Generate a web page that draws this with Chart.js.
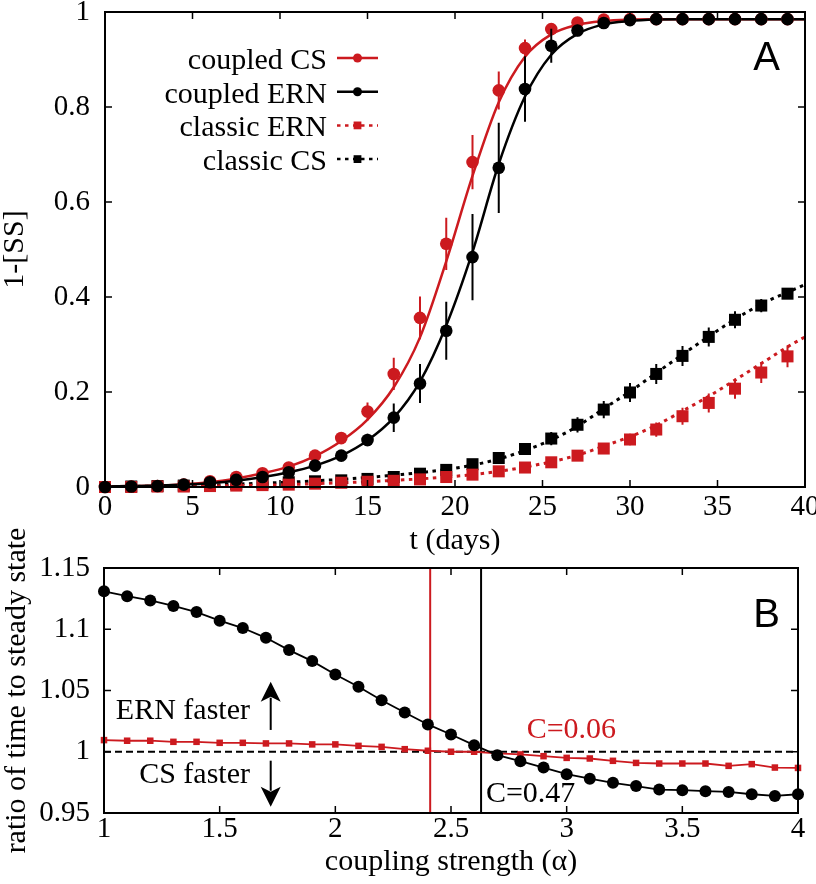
<!DOCTYPE html>
<html>
<head>
<meta charset="utf-8">
<script src="https://cdn.jsdelivr.net/npm/chart.js@4.4.1/dist/chart.umd.min.js"></script>
<style>
    html, body { margin: 0; padding: 0; background: #fff; }
    #wrap { position: relative; width: 816px; height: 884px; }
    canvas { position: absolute; left: 0; }
    #panelA { top: 0; }
    #panelB { top: 500px; }
</style>
</head>
<body>
<div id="wrap">
    <canvas id="panelA" width="816" height="560"></canvas>
    <canvas id="panelB" width="816" height="384"></canvas>
</div>
<script>
// ---- Панель A: точки симуляции ----
const tDays = [0, 1.5, 3, 4.5, 6, 7.5, 9, 10.5, 12, 13.5, 15, 16.5, 18, 19.5, 21, 22.5, 24, 25.5, 27, 28.5, 30, 31.5, 33, 34.5, 36, 37.5, 39];

const coupledCS = [0, 0.001, 0.002, 0.005, 0.012, 0.021, 0.029, 0.041, 0.066, 0.103, 0.159, 0.238, 0.356, 0.512, 0.684, 0.835, 0.924, 0.964, 0.978, 0.984, 0.985, 0.985, 0.985, 0.985, 0.985, 0.985, 0.985];
const coupledCSErr = [0, 0, 0, 0, 0, 0, 0.003, 0.004, 0.005, 0.008, 0.019, 0.034, 0.045, 0.055, 0.057, 0.04, 0.018, 0.006, 0.003, 0, 0, 0, 0, 0, 0, 0, 0];

const coupledERN = [0, 0.001, 0.002, 0.005, 0.010, 0.015, 0.021, 0.031, 0.045, 0.066, 0.099, 0.146, 0.218, 0.329, 0.484, 0.672, 0.838, 0.929, 0.961, 0.977, 0.983, 0.985, 0.985, 0.985, 0.985, 0.985, 0.985];
const coupledERNErr = [0, 0, 0, 0, 0, 0, 0.002, 0.003, 0.004, 0.006, 0.013, 0.03, 0.041, 0.061, 0.091, 0.095, 0.069, 0.036, 0.012, 0.004, 0, 0, 0, 0, 0, 0, 0];

const classicERN = [0, 0, 0.001, 0.001, 0.002, 0.003, 0.004, 0.005, 0.007, 0.009, 0.011, 0.013, 0.016, 0.021, 0.026, 0.033, 0.041, 0.052, 0.066, 0.081, 0.100, 0.121, 0.149, 0.177, 0.207, 0.241, 0.275];
const classicERNErr = [0, 0, 0, 0, 0, 0, 0, 0, 0, 0, 0.002, 0.002, 0.003, 0.003, 0.003, 0.004, 0.006, 0.007, 0.008, 0.010, 0.012, 0.015, 0.018, 0.020, 0.021, 0.022, 0.023];

const classicCS = [0, 0.001, 0.002, 0.003, 0.004, 0.006, 0.008, 0.010, 0.012, 0.014, 0.017, 0.021, 0.028, 0.036, 0.048, 0.061, 0.080, 0.102, 0.131, 0.163, 0.199, 0.238, 0.276, 0.316, 0.352, 0.382, 0.407];
const classicCSErr = [0, 0, 0, 0, 0, 0, 0, 0, 0, 0.002, 0.003, 0.003, 0.004, 0.006, 0.008, 0.010, 0.012, 0.014, 0.016, 0.018, 0.020, 0.021, 0.021, 0.020, 0.018, 0.014, 0.010];

// ---- Панель A: аппроксимирующие кривые ----
const tFit = [0, 1.5, 3, 4.5, 6, 7.5, 9, 10.5, 12, 13.5, 15, 16.5, 18, 19.5, 21, 22.5, 24, 25.5, 27, 28.5, 30, 31.5, 33, 34.5, 36, 37.5, 39, 40];
const coupledCSFit  = [0.001, 0.002, 0.003, 0.006, 0.010, 0.018, 0.029, 0.043, 0.065, 0.097, 0.142, 0.210, 0.315, 0.475, 0.655, 0.810, 0.906, 0.953, 0.973, 0.981, 0.984, 0.985, 0.985, 0.985, 0.985, 0.985, 0.985, 0.985];
const coupledERNFit = [0.001, 0.002, 0.003, 0.005, 0.008, 0.013, 0.021, 0.031, 0.045, 0.066, 0.098, 0.146, 0.222, 0.340, 0.495, 0.680, 0.822, 0.910, 0.954, 0.974, 0.981, 0.984, 0.985, 0.985, 0.985, 0.985, 0.985, 0.985];
const classicERNFit = [0, 0, 0.001, 0.001, 0.002, 0.003, 0.004, 0.005, 0.007, 0.009, 0.011, 0.014, 0.017, 0.021, 0.026, 0.033, 0.042, 0.053, 0.067, 0.086, 0.106, 0.130, 0.160, 0.191, 0.225, 0.260, 0.295, 0.316];
const classicCSFit  = [0, 0.001, 0.002, 0.003, 0.004, 0.006, 0.008, 0.010, 0.013, 0.016, 0.020, 0.025, 0.030, 0.037, 0.046, 0.059, 0.077, 0.099, 0.128, 0.165, 0.201, 0.240, 0.279, 0.317, 0.353, 0.385, 0.410, 0.426];

const xTicksA = [0, 5, 10, 15, 20, 25, 30, 35, 40];
const xLabelsA = ['0', '5', '10', '15', '20', '25', '30', '35', '40'];
const yTicksA = [0, 0.2, 0.4, 0.6, 0.8, 1];
const yLabelsA = ['0', '0.2', '0.4', '0.6', '0.8', '1'];
const legendOrder = ['coupled CS', 'coupled ERN', 'classic ERN', 'classic CS'];

// ---- Панель B ----
const alpha = [1.0, 1.1, 1.2, 1.3, 1.4, 1.5, 1.6, 1.7, 1.8, 1.9, 2.0, 2.1, 2.2, 2.3, 2.4, 2.5, 2.6, 2.7, 2.8, 2.9, 3.0, 3.1, 3.2, 3.3, 3.4, 3.5, 3.6, 3.7, 3.8, 3.9, 4.0];
const ratioBlack = [1.131, 1.127, 1.1235, 1.119, 1.114, 1.107, 1.101, 1.093, 1.083, 1.074, 1.063, 1.053, 1.042, 1.032, 1.0223, 1.0141, 1.0054, 0.9972, 0.9923, 0.9871, 0.9817, 0.978, 0.9746, 0.972, 0.9691, 0.9686, 0.9678, 0.9672, 0.9653, 0.9639, 0.9653];
const ratioRed = [1.0095, 1.009, 1.009, 1.0081, 1.0081, 1.0073, 1.0073, 1.0068, 1.0068, 1.006, 1.006, 1.0048, 1.004, 1.0021, 1.0008, 1.0, 1.0, 0.9986, 0.9978, 0.9964, 0.995, 0.9945, 0.9926, 0.9909, 0.9904, 0.9904, 0.9904, 0.9885, 0.9899, 0.9871, 0.9868];
const equalRatio = 1;
const critRed = 2.41;
const critBlack = 2.63;

const xTicksB = [1, 1.5, 2, 2.5, 3, 3.5, 4];
const xLabelsB = ['1', '1.5', '2', '2.5', '3', '3.5', '4'];
const yTicksB = [0.95, 1, 1.05, 1.1, 1.15];
const yLabelsB = ['0.95', '1', '1.05', '1.1', '1.15'];

// ---- Оформление ----
const RED = '#cc1a1f';
const BLACK = '#000000';
const SERIF = "'Liberation Serif', 'DejaVu Serif', serif";
const SANS = "'Liberation Sans', Arial, sans-serif";
const DOT = [3.5, 4.5];

Chart.defaults.color = BLACK;
Chart.defaults.font.family = SERIF;

const pts = (xs, ys) => xs.map((x, i) => ({ x: x, y: ys[i] }));

// Рамка и засечки внутрь со всех четырёх сторон
function frameTicks(tickLen) {
    return {
        id: 'frameTicks',
        afterDatasetsDraw(chart) {
            const { ctx, chartArea: a, scales } = chart;
            ctx.save();
            ctx.strokeStyle = BLACK;
            ctx.lineWidth = 1.5;
            ctx.beginPath();
            scales.x.ticks.forEach(t => {
                const px = scales.x.getPixelForValue(t.value);
                ctx.moveTo(px, a.bottom); ctx.lineTo(px, a.bottom - tickLen);
                ctx.moveTo(px, a.top); ctx.lineTo(px, a.top + tickLen);
            });
            scales.y.ticks.forEach(t => {
                const py = scales.y.getPixelForValue(t.value);
                ctx.moveTo(a.left, py); ctx.lineTo(a.left + tickLen, py);
                ctx.moveTo(a.right, py); ctx.lineTo(a.right - tickLen, py);
            });
            ctx.stroke();
            ctx.lineWidth = 2;
            ctx.strokeRect(a.left, a.top, a.width, a.height);
            ctx.restore();
        }
    };
}

// Планки погрешностей (рисуем перед маркерами)
const errorBars = {
    id: 'errorBars',
    beforeDatasetDraw(chart, args) {
        const ds = chart.data.datasets[args.index];
        if (!ds.errors) return;
        const { ctx, scales: { x, y } } = chart;
        ctx.save();
        ctx.strokeStyle = ds.borderColor;
        ctx.lineWidth = 2;
        ctx.beginPath();
        ds.data.forEach((p, i) => {
            const e = ds.errors[i];
            if (!e) return;
            const px = x.getPixelForValue(p.x);
            ctx.moveTo(px, y.getPixelForValue(p.y - e));
            ctx.lineTo(px, y.getPixelForValue(p.y + e));
        });
        ctx.stroke();
        ctx.restore();
    }
};

// Легенда панели A: текст справа налево, образец линии с маркером
const legendA = {
    id: 'legendA',
    afterDraw(chart) {
        const { ctx, chartArea: a, scales: { x, y } } = chart;
        const textRight = a.left + 222;
        ctx.save();
        legendOrder.forEach((label, i) => {
            const rowY = a.top + 46 + i * 33.7;
            const fit = chart.data.datasets.find(d => d.label === label && d.role === 'fit');
            const marks = chart.data.datasets.find(d => d.label === label && d.role === 'marks');
            ctx.font = `30px ${SERIF}`;
            ctx.fillStyle = BLACK;
            ctx.textAlign = 'right';
            ctx.textBaseline = 'alphabetic';
            ctx.fillText(label, textRight, rowY + 11);
            ctx.strokeStyle = fit.borderColor;
            ctx.lineWidth = 2.5;
            ctx.setLineDash(fit.borderDash || []);
            ctx.beginPath();
            ctx.moveTo(textRight + 10, rowY);
            ctx.lineTo(textRight + 51, rowY);
            ctx.stroke();
            ctx.setLineDash([]);
            ctx.fillStyle = marks.backgroundColor;
            Chart.helpers.drawPoint(ctx, {
                pointStyle: marks.pointStyle,
                radius: marks.pointStyle === 'rect' ? 5.5 : 4.5,
                rotation: 0,
                borderWidth: 0
            }, textRight + 30.5, rowY);
        });
        ctx.font = `40px ${SANS}`;
        ctx.textAlign = 'right';
        ctx.fillStyle = BLACK;
        ctx.fillText('A', x.getPixelForValue(38.57), y.getPixelForValue(0.878));
        ctx.restore();
    }
};

function drawArrow(ctx, x, y0, y1) {
    const dir = Math.sign(y1 - y0);
    const head = 20;
    ctx.strokeStyle = BLACK;
    ctx.fillStyle = BLACK;
    ctx.lineWidth = 2;
    ctx.beginPath();
    ctx.moveTo(x, y0);
    ctx.lineTo(x, y1 - dir * head * 0.8);
    ctx.stroke();
    ctx.beginPath();
    ctx.moveTo(x, y1);
    ctx.lineTo(x - 10, y1 - dir * head);
    ctx.lineTo(x, y1 - dir * head * 0.75);
    ctx.lineTo(x + 10, y1 - dir * head);
    ctx.closePath();
    ctx.fill();
}

// Подписи и стрелки панели B
const notesB = {
    id: 'notesB',
    afterDraw(chart) {
        const { ctx, scales: { x, y } } = chart;
        const px = v => x.getPixelForValue(v);
        const py = v => y.getPixelForValue(v);
        ctx.save();
        ctx.font = `30px ${SERIF}`;
        ctx.textBaseline = 'alphabetic';
        ctx.fillStyle = BLACK;
        ctx.textAlign = 'right';
        ctx.fillText('ERN faster', px(1.631), py(1.0267));
        ctx.fillText('CS faster', px(1.631), py(0.9745));
        ctx.textAlign = 'left';
        ctx.fillStyle = RED;
        ctx.fillText('C=0.06', px(2.827), py(1.011));
        ctx.fillStyle = BLACK;
        ctx.fillText('C=0.47', px(2.651), py(0.9592));
        drawArrow(ctx, px(1.7206), py(1.0178), py(1.0572));
        drawArrow(ctx, px(1.7206), py(0.9927), py(0.9551));
        ctx.font = `40px ${SANS}`;
        ctx.textAlign = 'right';
        ctx.fillText('B', px(3.922), py(1.1018));
        ctx.restore();
    }
};

function markerSet(label, ys, errs, color, style, radius) {
    return {
        label: label, role: 'marks',
        data: pts(tDays, ys), errors: errs,
        showLine: false, borderColor: color, backgroundColor: color,
        pointStyle: style, pointRadius: radius, pointBorderWidth: 0,
        clip: false
    };
}

function fitSet(label, ys, color, dash) {
    return {
        label: label, role: 'fit',
        data: pts(tFit, ys),
        borderColor: color, borderWidth: dash.length ? 3 : 2.5, borderDash: dash,
        borderCapStyle: 'butt',
        pointRadius: 0, cubicInterpolationMode: 'monotone', fill: false
    };
}

function axis(min, max, tickVals, tickLabels, opts) {
    return {
        type: 'linear', min: min, max: max,
        afterBuildTicks: s => { s.ticks = tickVals.map(v => ({ value: v })); },
        afterFit: s => {
            if (opts.width) s.width = opts.width;
            if (opts.height) s.height = opts.height;
            s.paddingLeft = 0; s.paddingRight = 0; s.paddingTop = 0; s.paddingBottom = 0;
        },
        grid: { display: false, drawTicks: false },
        border: { display: false },
        ticks: {
            color: BLACK, autoSkip: false, maxRotation: 0, padding: opts.tickPad,
            font: { family: SERIF, size: 29, lineHeight: 1 },
            callback: (v, i) => tickLabels[i]
        },
        title: {
            display: true, text: opts.title, color: BLACK,
            font: { family: SERIF, size: 30, lineHeight: 1 },
            padding: opts.titlePad
        }
    };
}

const baseOptions = {
    responsive: false,
    animation: false,
    events: [],
    plugins: { legend: { display: false }, tooltip: { enabled: false } }
};

document.addEventListener('DOMContentLoaded', function() {
    new Chart(document.getElementById('panelA'), {
        type: 'line',
        data: {
            datasets: [
                markerSet('coupled ERN', coupledERN, coupledERNErr, BLACK, 'circle', 6.3),
                markerSet('coupled CS', coupledCS, coupledCSErr, RED, 'circle', 6.3),
                fitSet('coupled ERN', coupledERNFit, BLACK, []),
                fitSet('coupled CS', coupledCSFit, RED, []),
                markerSet('classic ERN', classicERN, classicERNErr, RED, 'rect', 8.5),
                markerSet('classic CS', classicCS, classicCSErr, BLACK, 'rect', 8.5),
                fitSet('classic ERN', classicERNFit, RED, DOT),
                fitSet('classic CS', classicCSFit, BLACK, DOT)
            ]
        },
        options: Object.assign({}, baseOptions, {
            layout: { padding: { left: 0, top: 12, right: 11, bottom: 0 } },
            scales: {
                x: axis(0, 40, xTicksA, xLabelsA, { height: 73, tickPad: 6, title: 't (days)', titlePad: { top: 0, bottom: 4 } }),
                y: axis(0, 1, yTicksA, yLabelsA, { width: 105, tickPad: 15, title: '1-[SS]', titlePad: { top: 0, bottom: 0 } })
            }
        }),
        plugins: [errorBars, frameTicks(7), legendA]
    });

    new Chart(document.getElementById('panelB'), {
        type: 'line',
        data: {
            datasets: [
                {
                    label: 'black', data: pts(alpha, ratioBlack),
                    borderColor: BLACK, backgroundColor: BLACK, borderWidth: 1.8,
                    pointStyle: 'circle', pointRadius: 6, pointBorderWidth: 0, clip: false
                },
                {
                    label: 'red', data: pts(alpha, ratioRed),
                    borderColor: RED, backgroundColor: RED, borderWidth: 1.8,
                    pointStyle: 'rect', pointRadius: 4.6, pointBorderWidth: 0, clip: false
                },
                {
                    label: 'equal', data: [{ x: alpha[0], y: equalRatio }, { x: alpha[alpha.length - 1], y: equalRatio }],
                    borderColor: BLACK, borderWidth: 2, borderDash: [7, 4], pointRadius: 0
                },
                {
                    label: 'C red', data: [{ x: critRed, y: yTicksB[0] }, { x: critRed, y: yTicksB[yTicksB.length - 1] }],
                    borderColor: RED, borderWidth: 2, pointRadius: 0
                },
                {
                    label: 'C black', data: [{ x: critBlack, y: yTicksB[0] }, { x: critBlack, y: yTicksB[yTicksB.length - 1] }],
                    borderColor: BLACK, borderWidth: 2, pointRadius: 0
                }
            ]
        },
        options: Object.assign({}, baseOptions, {
            layout: { padding: { left: 0, top: 68, right: 18, bottom: 0 } },
            scales: {
                x: axis(1, 4, xTicksB, xLabelsB, { height: 71, tickPad: 2, title: 'coupling strength (\u03b1)', titlePad: { top: 0, bottom: 7 } }),
                y: axis(0.95, 1.15, yTicksB, yLabelsB, { width: 104, tickPad: 14, title: 'ratio of time to steady state', titlePad: { top: 2, bottom: 0 } })
            }
        }),
        plugins: [frameTicks(7), notesB]
    });
});
</script>
</body>
</html>
